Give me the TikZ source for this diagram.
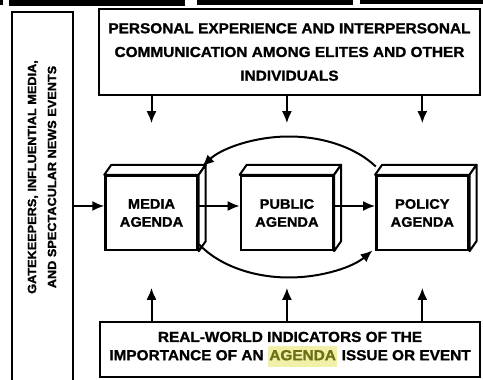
\documentclass[tikz,border=0pt]{standalone}
\usepackage{fontspec}
\setmainfont{Liberation Sans}[FakeStretch=1.06, BoldFeatures={FakeBold=1.2}]
\usetikzlibrary{arrows.meta, calc, positioning}
\definecolor{hlyellow}{HTML}{F0F0A8}
\definecolor{hlolive}{HTML}{6E6E14}
\newcommand{\hlword}[1]{{\setlength{\fboxsep}{1.5pt}\colorbox{hlyellow}{\color{hlolive}\strut #1}}}

\begin{document}
\begin{tikzpicture}[
            x=1pt, y=1pt,
            frame box/.style={draw=black, line width=2.4pt, fill=white, inner sep=0pt},
            box text/.style={align=center, font=\fontsize{14.5}{23.7}\selectfont\bfseries},
            agenda box/.style={frame box, line width=2.4pt, minimum width=92pt, minimum height=74pt,
                align=center, font=\fontsize{13.8}{18}\selectfont\bfseries},
            slab/.style={draw=black, line width=2pt, fill=white, line join=round},
            flow arrow/.style={line width=2pt, -{Latex[length=12pt, width=10pt]}},
        ]

        \useasboundingbox (0,0) rectangle (483,380);

        % Cut-off row along the top edge
        \fill (0,380) rectangle (3,375);
        \fill (9,380) rectangle (185,374);
        \fill (197,380) rectangle (353,375);
        \fill (360,380) rectangle (483,376);

        % Side box (runs past the lower edge)
        \node[frame box, minimum width=61pt, minimum height=378pt] (gate) at (42.5,179) {};
        \node[rotate=90, align=center, font=\fontsize{12}{20}\selectfont\bfseries] (gatetext) at (42,203)
            {GATEKEEPERS, INFLUENTIAL MEDIA,\\AND SPECTACULAR NEWS EVENTS};

        % Top and bottom boxes
        \node[frame box, box text, minimum width=381pt, minimum height=86pt] (personal) at (289.5,328)
            {PERSONAL EXPERIENCE AND INTERPERSONAL\\COMMUNICATION AMONG ELITES AND OTHER\\INDIVIDUALS};
        \node[frame box, box text, font=\fontsize{14.5}{18.3}\selectfont\bfseries,
              minimum width=380pt, minimum height=55pt] (realworld) at (290,30.5)
            {REAL-WORLD INDICATORS OF THE\\IMPORTANCE OF AN \hlword{AGENDA} ISSUE OR EVENT};

        % Agenda boxes
        \node[agenda box] (media) at (151.5,167) {MEDIA\\AGENDA};
        \node[agenda box, right=41pt of media] (public) {PUBLIC\\AGENDA};
        \node[agenda box, right=41pt of public] (policy) {POLICY\\AGENDA};

        % Top and side slabs of each agenda box
        \foreach \n in {media, public, policy} {
            \draw[slab] (\n.north west) -- ++(7,10) -- ([shift={(7,10)}]\n.north east) -- (\n.north east) -- cycle;
            \draw[slab] (\n.north east) -- ++(7,10) -- ([shift={(7,10)}]\n.south east) -- (\n.south east) -- cycle;
        }

        % Horizontal flow
        \draw[flow arrow] ([yshift=7pt]gate.east |- media.west) -- ([yshift=7pt]media.west);
        \draw[flow arrow] ([yshift=7pt]media.east) -- ([yshift=7pt]public.west);
        \draw[flow arrow] ([yshift=7pt]public.east) -- ([yshift=7pt]policy.west);

        % Vertical inputs
        \foreach \n in {media, public, policy} {
            \draw[flow arrow] (personal.south -| \n) -- ++(0,-27);
            \draw[flow arrow] (realworld.north -| \n) -- ++(0,33);
        }

        % Loop round the public agenda
        \coordinate (hub) at (289,173);
        \draw[flow arrow] ([shift={(35:106 and 70.5)}]hub) arc[start angle=35, end angle=145, x radius=106, y radius=70.5];
        \draw[flow arrow] ([shift={(-148:106 and 70.5)}]hub) arc[start angle=-148, end angle=-38, x radius=106, y radius=70.5];

        \end{tikzpicture}
\end{document}
